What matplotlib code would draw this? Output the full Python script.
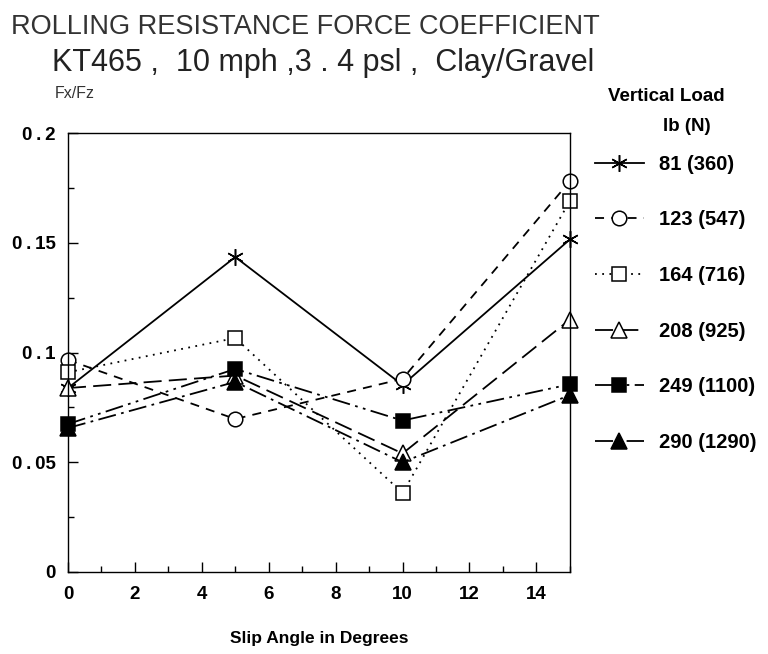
import numpy as np
import matplotlib
matplotlib.use('Agg')
import matplotlib.pyplot as plt
from matplotlib.ticker import MultipleLocator

plt.rcParams['font.family'] = ['Liberation Sans', 'DejaVu Sans']

# slip angles and measured Fx/Fz
slip = [0, 5, 10, 15]
loads = ['81 (360)', '123 (547)', '164 (716)', '208 (925)', '249 (1100)', '290 (1290)']
f81 = [0.0838, 0.1435, 0.0852, 0.1515]
f123 = [0.0966, 0.0697, 0.0880, 0.1780]
f164 = [0.0910, 0.1066, 0.0360, 0.1690]
f208 = [0.0838, 0.0895, 0.0540, 0.1150]
f249 = [0.0674, 0.0925, 0.0690, 0.0855]
f290 = [0.0656, 0.0866, 0.0500, 0.0806]
series = [f81, f123, f164, f208, f249, f290]

ytick_vals = [0, 0.05, 0.1, 0.15, 0.2]
ytick_txt = ['0', '0\u2009.\u200905', '0\u2009.\u20091', '0\u2009.\u200915', '0\u2009.\u20092']

stil = [
    dict(ls='-', marker=(6, 2, 0), ms=12, mfc='k'),
    dict(ls=(0, (5, 4)), marker='o', ms=10.5, mfc='white'),
    dict(ls=(0, (1, 3)), marker='s', ms=10, mfc='white'),
    dict(ls=(0, (10, 4)), marker='^', ms=12, mfc='white'),
    dict(ls=(0, (10, 3, 1.5, 3, 1.5, 3)), marker='s', ms=10, mfc='k'),
    dict(ls=(0, (10, 3, 1.5, 3)), marker='^', ms=12, mfc='k'),
]

fig = plt.figure(figsize=(7.68, 6.54), dpi=100)
ax = fig.add_axes([0.0885, 0.1254, 0.6535, 0.6712])

for vals, lab, st in zip(series, loads, stil):
    ax.plot(slip, vals, color='k', lw=1.3, mec='k', mew=1.1, label=lab,
            clip_on=False, **st)

ax.set_xlim(0, 15)
ax.set_ylim(0, 0.2)
ax.xaxis.set_major_locator(MultipleLocator(2))
ax.xaxis.set_minor_locator(MultipleLocator(1))
ax.yaxis.set_minor_locator(MultipleLocator(0.025))
ax.set_yticks(ytick_vals)
ax.set_yticklabels(ytick_txt)
ax.tick_params(which='both', direction='in', width=1.0, labelsize=13.5)
ax.tick_params(which='major', length=7)
ax.tick_params(which='minor', length=4)
ax.tick_params(axis='x', pad=10)
ax.tick_params(axis='y', pad=9)
for lb in ax.get_xticklabels() + ax.get_yticklabels():
    lb.set_fontweight('bold')
for sp in ax.spines.values():
    sp.set_linewidth(1.0)

ax.set_xlabel('Slip Angle in Degrees', fontsize=12.5, fontweight='bold', labelpad=20)

fig.text(0.014, 0.978, 'ROLLING RESISTANCE FORCE COEFFICIENT', fontsize=19.5,
         color='#333333', va='top', ha='left')
fig.text(0.068, 0.926, 'KT465 ,  10 mph ,3 . 4 psl ,  Clay/Gravel', fontsize=22,
         color='#222222', va='top', ha='left')
fig.text(0.071, 0.869, 'Fx/Fz', fontsize=11.5, color='#333333', va='top', ha='left')

fig.text(0.792, 0.866, 'Vertical Load', fontsize=13.5, fontweight='bold', va='top')
fig.text(0.863, 0.820, 'lb (N)', fontsize=13.5, fontweight='bold', va='top')

ax.legend(loc='upper left', bbox_to_anchor=(0.775, 0.7635), bbox_transform=fig.transFigure,
          frameon=False, handlelength=2.4, labelspacing=1.82, handletextpad=0.75,
          borderpad=0, borderaxespad=0, prop=dict(size=14.5, weight='bold'))

fig.savefig('out.png', dpi=100)
